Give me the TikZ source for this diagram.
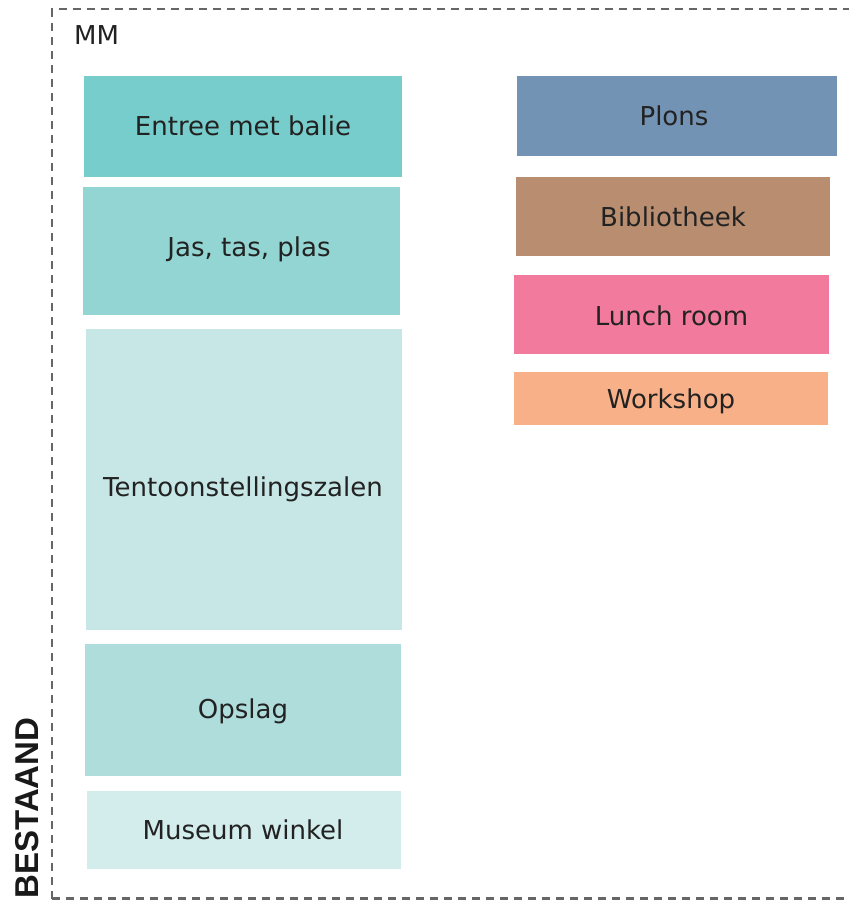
\documentclass[tikz,border=0pt]{standalone}
\usepackage{fontspec}
\setmainfont{DejaVu Sans}
\newfontfamily\boldfont{Liberation Sans}
\definecolor{cEntree}{HTML}{76CDCB}
\definecolor{cJas}{HTML}{93D5D2}
\definecolor{cTent}{HTML}{C7E7E6}
\definecolor{cOpslag}{HTML}{AEDDDC}
\definecolor{cWinkel}{HTML}{D3ECEC}
\definecolor{cPlons}{HTML}{7393B5}
\definecolor{cBieb}{HTML}{B98E70}
\definecolor{cLunch}{HTML}{F27B9D}
\definecolor{cWork}{HTML}{F8B088}
\definecolor{txt}{HTML}{222222}
\definecolor{border}{HTML}{666666}
\tikzset{
  room/.style={draw=none, inner sep=0pt, anchor=center},
  lbl/.style={inner sep=0pt, text=txt, font=\fontsize{26}{30}\selectfont},
  frame/.style={draw=border, line width=2.5pt, dash pattern=on 8pt off 6pt}
}
\begin{document}
\begin{tikzpicture}[x=1pt, y=-1pt]
\useasboundingbox (0,0) rectangle (849,900);
\clip (0,0) rectangle (849,900);
\fill[white] (0,0) rectangle (849,900);
\draw[frame] (52,898.5) -- (52,9) -- (860,9);
\draw[frame] (52,898.5) -- (860,898.5);
\node[lbl, anchor=west] (mm) at (74,35) {MM};
\node[inner sep=0pt, text=black!90, rotate=90, font=\boldfont\bfseries\fontsize{33}{37}\selectfont] (bestaand) at (27,808) {BESTAAND};
% left column
\node[room, fill=cEntree, minimum width=318pt, minimum height=101pt] (entree) at (243,126.5) {};
\node[lbl] (entreet) at ([yshift=1pt]entree.center) {Entree met balie};
\node[room, fill=cJas, minimum width=317pt, minimum height=128pt] (jas) at (241.5,251) {};
\node[lbl] (jast) at ([xshift=7.5pt,yshift=2pt]jas.center) {Jas, tas, plas};
\node[room, fill=cTent, minimum width=316pt, minimum height=301pt] (tent) at (244,479.5) {};
\node[lbl] (tentt) at ([xshift=-1pt,yshift=-10pt]tent.center) {Tentoonstellingszalen};
\node[room, fill=cOpslag, minimum width=316pt, minimum height=132pt] (opslag) at (243,710) {};
\node[lbl] (opslagt) at ([yshift=-1pt]opslag.center) {Opslag};
\node[room, fill=cWinkel, minimum width=314pt, minimum height=78pt] (winkel) at (244,830) {};
\node[lbl] (winkelt) at ([xshift=-1pt]winkel.center) {Museum winkel};
% right column
\node[room, fill=cPlons, minimum width=320pt, minimum height=80pt] (plons) at (677,116) {};
\node[lbl] (plonst) at ([xshift=-3pt]plons.center) {Plons};
\node[room, fill=cBieb, minimum width=314pt, minimum height=79pt] (bieb) at (673,216.5) {};
\node[lbl] (biebt) at (bieb.center) {Bibliotheek};
\node[room, fill=cLunch, minimum width=315pt, minimum height=79pt] (lunch) at (671.5,314.5) {};
\node[lbl] (luncht) at ([yshift=-1pt]lunch.center) {Lunch room};
\node[room, fill=cWork, minimum width=314pt, minimum height=53pt] (work) at (671,398.5) {};
\node[lbl] (workt) at ([yshift=-3pt]work.center) {Workshop};
\end{tikzpicture}
\end{document}
